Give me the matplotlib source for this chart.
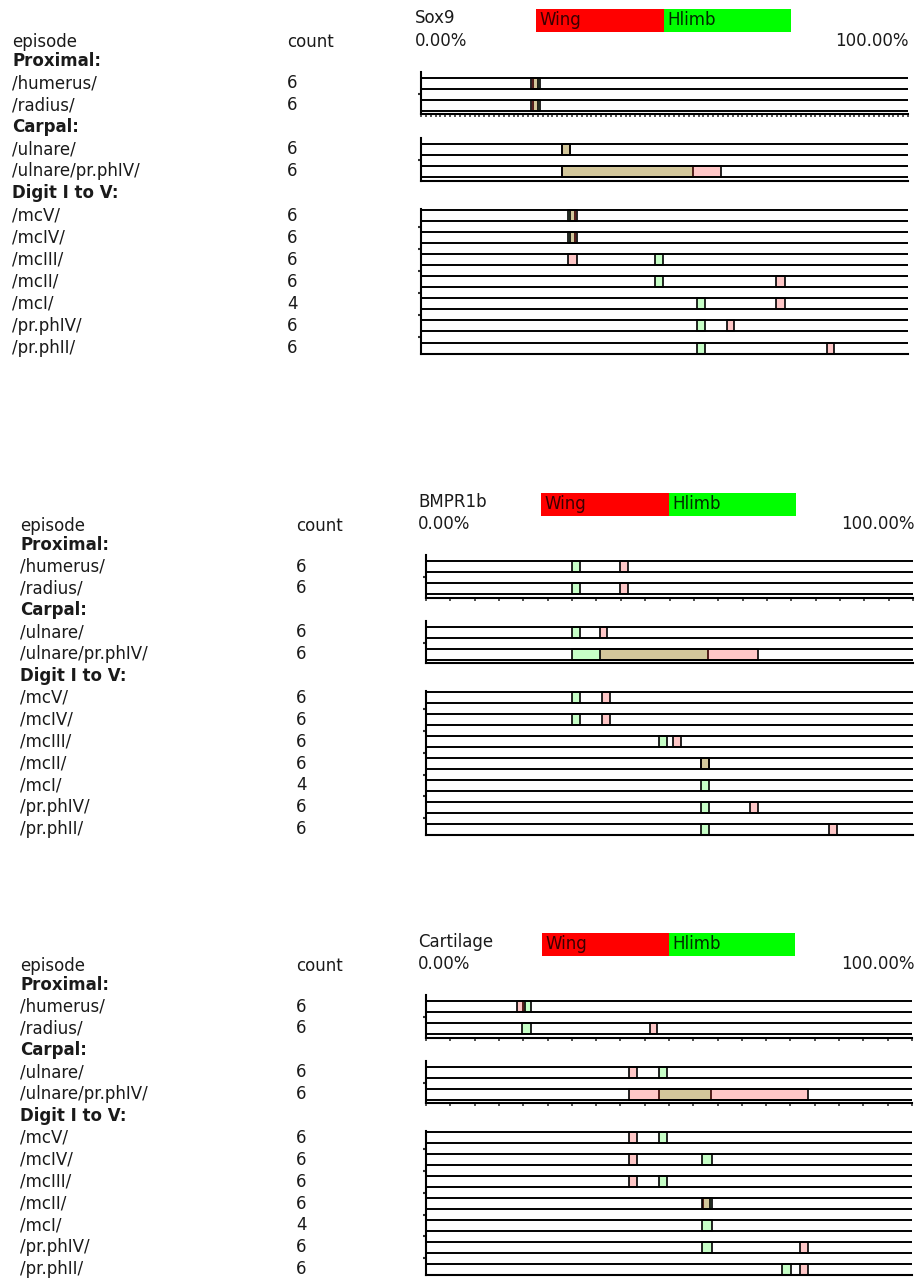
import matplotlib
matplotlib.use('Agg')
import matplotlib.pyplot as plt

W, H = 916, 1279

genes = ['Sox9', 'BMPR1b', 'Cartilage']
series = ['Wing', 'Hlimb']
sections = ['Proximal:', 'Carpal:', 'Digit I to V:']
episodes = [['/humerus/', '/radius/'],
            ['/ulnare/', '/ulnare/pr.phIV/'],
            ['/mcV/', '/mcIV/', '/mcIII/', '/mcII/', '/mcI/', '/pr.phIV/', '/pr.phII/']]
counts = [[6, 6], [6, 6], [6, 6, 6, 6, 4, 6, 6]]

# (start, end) in % for each episode, flattened in the order above; None = no mark
sox9_wing = [(22.6, 24.0), (22.6, 24.0), (29.0, 30.6), (29.0, 61.6), (30.6, 32.0), (30.6, 32.0),
             (30.2, 32.0), (72.9, 74.7), (72.9, 74.7), (62.8, 64.3), (83.4, 84.8)]
sox9_hlimb = [(23.0, 24.4), (23.0, 24.4), (29.0, 30.6), (29.0, 55.9), (30.2, 31.6), (30.2, 31.6),
              (48.0, 49.7), (48.0, 49.7), (56.7, 58.3), (56.7, 58.3), (56.7, 58.3)]

bmpr_wing = [(39.8, 41.5), (39.8, 41.5), (35.7, 37.2), (35.7, 68.2), (36.1, 37.8), (36.1, 37.8),
             (50.7, 52.4), (56.5, 58.1), None, (66.5, 68.2), (82.8, 84.4)]
bmpr_hlimb = [(30.0, 31.6), (30.0, 31.6), (30.0, 31.6), (30.0, 57.9), (30.0, 31.6), (30.0, 31.6),
              (47.8, 49.5), (56.5, 58.1), (56.5, 58.1), (56.5, 58.1), (56.5, 58.1)]

cart_wing = [(18.7, 20.4), (46.1, 47.5), (41.8, 43.4), (41.8, 78.6), (41.8, 43.4), (41.8, 43.4),
             (41.8, 43.4), (56.8, 58.4), None, (77.0, 78.6), (77.0, 78.6)]
cart_hlimb = [(20.0, 21.6), (19.8, 21.6), (47.9, 49.6), (47.9, 58.6), (47.9, 49.6), (56.8, 58.8),
              (47.9, 49.6), (57.0, 58.8), (56.8, 58.8), (56.8, 58.8), (73.3, 75.1)]

wing_data = [sox9_wing, bmpr_wing, cart_wing]
hlimb_data = [sox9_hlimb, bmpr_hlimb, cart_hlimb]

# pixel layout of each panel
layout = [
    dict(row0=61.0, pitch=22.08, x0=421, x1=908, text_x=12, count_x=287, title_x=415,
         pct_right=909, leg=(536, 791), tick_step=1),
    dict(row0=544.6, pitch=21.9, x0=426, x1=913, text_x=20, count_x=296, title_x=418,
         pct_right=915, leg=(541, 796), tick_step=5),
    dict(row0=984.6, pitch=21.9, x0=426, x1=912, text_x=20, count_x=296, title_x=418,
         pct_right=915, leg=(542, 795), tick_step=5),
]

wing_face = (1.0, 0.0, 0.0, 0.22)
hlimb_face = (0.0, 1.0, 0.0, 0.22)
bar_colors = ['#ff0000', '#00ff00']
label_colors = ['#3a0000', '#002a00']
fs = 12
txt = '#1a1a1a'

fig = plt.figure(figsize=(W / 100, H / 100), dpi=100)


def row_px(p, r):
    return p['row0'] + p['pitch'] * r


for k, p in enumerate(layout):
    wing = wing_data[k]
    hlimb = hlimb_data[k]

    # title, legend bar, axis end labels
    fig.text(p['title_x'] / W, 1 - row_px(p, -1.95) / H, genes[k], fontsize=fs, color=txt,
             ha='left', va='center')
    fig.text(p['title_x'] / W, 1 - row_px(p, -0.92) / H, '0.00%', fontsize=fs, color=txt,
             ha='left', va='center')
    fig.text(p['pct_right'] / W, 1 - row_px(p, -0.92) / H, '100.00%', fontsize=fs, color=txt,
             ha='right', va='center')
    fig.text(p['text_x'] / W, 1 - row_px(p, -0.85) / H, 'episode', fontsize=fs, color=txt,
             ha='left', va='center')
    fig.text(p['count_x'] / W, 1 - row_px(p, -0.85) / H, 'count', fontsize=fs, color=txt,
             ha='left', va='center')

    lt, lb = row_px(p, -2.35), row_px(p, -1.3)
    lax = fig.add_axes([p['leg'][0] / W, 1 - lb / H, (p['leg'][1] - p['leg'][0]) / W, (lb - lt) / H])
    lax.barh([0, 0], [1, 1], left=[0, 1], height=1, color=bar_colors)
    for i, name in enumerate(series):
        lax.text(i + 0.03, -0.02, name, fontsize=fs, color=label_colors[i], ha='left', va='center')
    lax.set_xlim(0, 2)
    lax.set_ylim(0.5, -0.5)
    lax.axis('off')

    row = 0
    idx = 0
    for g, sec in enumerate(sections):
        fig.text(p['text_x'] / W, 1 - row_px(p, row) / H, sec, fontsize=fs, color=txt,
                 fontweight='bold', ha='left', va='center')
        first = row + 1
        last = row + len(episodes[g])

        if g < 2:
            lo, hi = first - 0.52, last + 0.42
        else:
            lo, hi = first - 0.3, last + 0.28
        top, bot = row_px(p, lo), row_px(p, hi)
        ax = fig.add_axes([p['x0'] / W, 1 - bot / H, (p['x1'] - p['x0']) / W, (bot - top) / H])
        ax.set_xlim(0, 100)
        ax.set_ylim(hi, lo)
        ax.patch.set_alpha(0)
        for s in ['top', 'right']:
            ax.spines[s].set_visible(False)
        ax.spines['left'].set_linewidth(1.5)
        ax.spines['bottom'].set_linewidth(1.5)
        ax.set_yticks([r + 0.5 for r in range(first, last)])
        ax.set_yticklabels([])
        ax.tick_params(axis='y', length=2.5, width=1.5, color='#333333')
        show_ticks = (g == 0) or (g == 1 and k == 2)
        if show_ticks:
            ax.set_xticks(range(0, 101, p['tick_step']))
            ax.set_xticklabels([])
            ax.tick_params(axis='x', length=2.5, width=1.2, color='#333333')
        else:
            ax.set_xticks([])

        for j, ep in enumerate(episodes[g]):
            r = row + 1 + j
            fig.text(p['text_x'] / W, 1 - row_px(p, r) / H, ep, fontsize=fs, color=txt,
                     ha='left', va='center')
            fig.text(p['count_x'] / W, 1 - row_px(p, r) / H, str(counts[g][j]), fontsize=fs,
                     color=txt, ha='left', va='center')
            ax.hlines([r - 0.25, r + 0.25], 0, 100, color='black', lw=1.4)
            if hlimb[idx] is not None:
                s0, s1 = hlimb[idx]
                ax.barh(r, s1 - s0, left=s0, height=0.5, facecolor=hlimb_face,
                        edgecolor='black', lw=1.2)
            if wing[idx] is not None:
                s0, s1 = wing[idx]
                ax.barh(r, s1 - s0, left=s0, height=0.5, facecolor=wing_face,
                        edgecolor='black', lw=1.2)
            idx += 1
        row = last + 1

fig.savefig('out.png', dpi=100)
